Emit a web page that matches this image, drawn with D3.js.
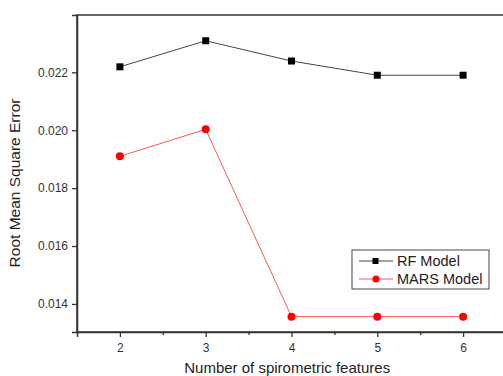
<!DOCTYPE html>
<html>
<head>
<meta charset="utf-8">
<script src="https://cdn.jsdelivr.net/npm/d3@7"></script>
<style>
  body { margin: 0; background: #fff; }
  svg { display: block; font-family: "Liberation Sans", Arial, sans-serif; }
</style>
</head>
<body>
<div id="chart"></div>
<script>
// Data
const features = [2, 3, 4, 5, 6];
const rfValues = [0.02219, 0.02309, 0.02239, 0.02190, 0.02190];
const marsValues = [0.01910, 0.02003, 0.01356, 0.01356, 0.01356];
const yTicks = [0.014, 0.016, 0.018, 0.020, 0.022];
const xMinorTicks = [2.5, 3.5, 4.5, 5.5];
const seriesNames = ["RF Model", "MARS Model"];

const margin = { top: 15, right: -3, bottom: 44, left: 77 };
const width = 503 - margin.left - margin.right;
const height = 376 - margin.top - margin.bottom;

const svg = d3.select("#chart")
    .append("svg")
    .attr("width", 503)
    .attr("height", 376)
    .append("g")
    .attr("transform", "translate(" + margin.left + "," + margin.top + ")");

// Scales
const x = d3.scaleLinear().domain([1.5, 6.5]).range([0, width]);
const y = d3.scaleLinear().domain([0.01303, 0.02398]).range([height, 0]);

// Frame
svg.append("rect")
    .attr("x", 0).attr("y", 0)
    .attr("width", width).attr("height", height)
    .attr("fill", "none")
    .attr("stroke", "#333")
    .attr("stroke-width", 1.5);

// Axes
svg.append("g")
    .attr("transform", "translate(0," + height + ")")
    .call(d3.axisBottom(x).tickValues(features).tickFormat(d3.format("d")).tickSize(5).tickPadding(6));

svg.append("g")
    .attr("transform", "translate(0," + height + ")")
    .call(d3.axisBottom(x).tickValues(xMinorTicks).tickFormat("").tickSize(3))
    .call(g => g.select(".domain").remove());

svg.append("g")
    .call(d3.axisLeft(y).tickValues(yTicks).tickFormat(d3.format(".3f")).tickSize(5).tickPadding(4));

svg.selectAll(".domain").attr("stroke", "#333").attr("stroke-width", 1.5);
svg.selectAll(".tick line").attr("stroke", "#333").attr("stroke-width", 1.3);
svg.selectAll(".tick text").attr("fill", "#333").style("font-size", "12px");

// Lines
const line = d3.line()
    .x((d, i) => x(features[i]))
    .y(d => y(d));

svg.append("path")
    .datum(rfValues)
    .attr("fill", "none")
    .attr("stroke", "#444")
    .attr("stroke-width", 1)
    .attr("d", line);

svg.append("path")
    .datum(marsValues)
    .attr("fill", "none")
    .attr("stroke", "#f55")
    .attr("stroke-width", 1)
    .attr("d", line);

// Markers
svg.selectAll(".rf")
    .data(rfValues)
    .enter().append("rect")
    .attr("class", "rf")
    .attr("x", (d, i) => x(features[i]) - 3.5)
    .attr("y", d => y(d) - 3.5)
    .attr("width", 7)
    .attr("height", 7)
    .attr("fill", "#000");

svg.selectAll(".mars")
    .data(marsValues)
    .enter().append("circle")
    .attr("class", "mars")
    .attr("cx", (d, i) => x(features[i]))
    .attr("cy", d => y(d))
    .attr("r", 4)
    .attr("fill", "#f00");

// Axis labels
svg.append("text")
    .attr("text-anchor", "middle")
    .attr("x", x(3.95))
    .attr("y", height + 41)
    .attr("fill", "#222")
    .style("font-size", "15px")
    .text("Number of spirometric features");

svg.append("text")
    .attr("text-anchor", "middle")
    .attr("transform", "translate(" + (-57) + "," + (168) + ") rotate(-90)")
    .attr("fill", "#222")
    .style("font-size", "15.5px")
    .text("Root Mean Square Error");

// Legend
const legend = svg.append("g")
    .attr("transform", "translate(" + (352 - margin.left) + "," + (250 - margin.top) + ")");

legend.append("rect")
    .attr("width", 137)
    .attr("height", 39)
    .attr("fill", "#fff")
    .attr("stroke", "#444")
    .attr("stroke-width", 1);

const legendItems = legend.selectAll(".legend")
    .data(seriesNames)
    .enter().append("g")
    .attr("class", "legend")
    .attr("transform", (d, i) => "translate(0," + (11 + i * 18) + ")");

legendItems.append("line")
    .attr("x1", 7).attr("x2", 41)
    .attr("y1", 0).attr("y2", 0)
    .attr("stroke", (d, i) => i === 0 ? "#444" : "#f55")
    .attr("stroke-width", 1);

legendItems.filter((d, i) => i === 0).append("rect")
    .attr("x", 20.5).attr("y", -3)
    .attr("width", 6).attr("height", 6)
    .attr("fill", "#000");

legendItems.filter((d, i) => i === 1).append("circle")
    .attr("cx", 24).attr("cy", 0).attr("r", 3.5)
    .attr("fill", "#f00");

legendItems.append("text")
    .attr("x", 45)
    .attr("y", 0)
    .attr("dy", "0.36em")
    .attr("fill", "#222")
    .style("font-size", "14.5px")
    .text(d => d);
</script>
</body>
</html>
